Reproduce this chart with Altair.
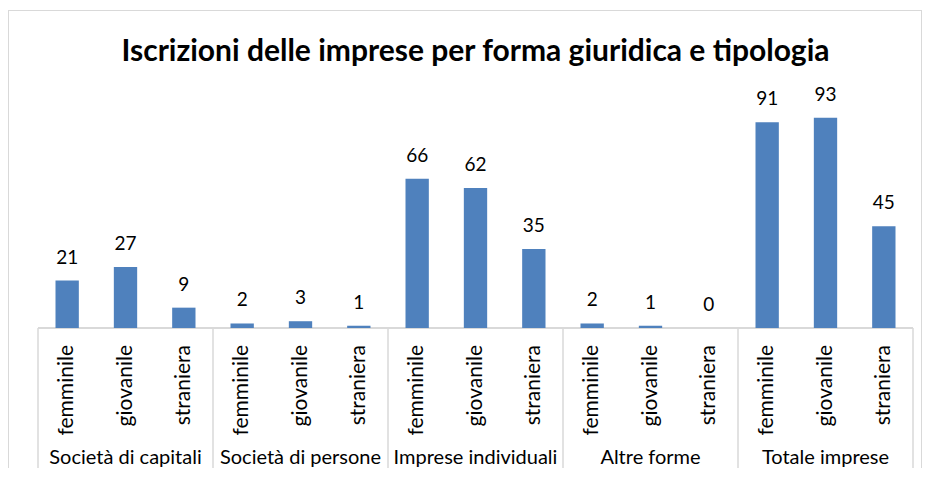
import altair as alt
import pandas as pd

# ---- data ----
title_text = "Iscrizioni delle imprese per forma giuridica e tipologia"
groups = ["Società di capitali", "Società di persone", "Imprese individuali", "Altre forme", "Totale imprese"]
types = ["femminile", "giovanile", "straniera"]
values = [21, 27, 9, 2, 3, 1, 66, 62, 35, 2, 1, 0, 91, 93, 45]

rows = []
for gi, g in enumerate(groups):
    for ti, t in enumerate(types):
        i = gi * 3 + ti
        rows.append(dict(group=g, tipo=t, value=values[i], xc=i + 0.5, x0=i + 0.3, x1=i + 0.7))
df = pd.DataFrame(rows)
gdf = pd.DataFrame(dict(group=groups, xc=[gi * 3 + 1.5 for gi in range(len(groups))]))
sep = pd.DataFrame(dict(xs=[gi * 3 for gi in range(len(groups) + 1)]))
tdf = pd.DataFrame(dict(t=[title_text]))

W, H = 875, 226
FONT = "Lato"
GRID = "#D9D9D9"
xs = alt.Scale(domain=[0, 15], nice=False, zero=False)
ys = alt.Scale(domain=[0, 100], nice=False)


def X(f):
    return alt.X(f, scale=xs, axis=None)


def Y(f):
    return alt.Y(f, scale=ys, axis=None)


bars = alt.Chart(df).mark_bar(color="#4F81BD").encode(
    x=X("x0:Q"), x2="x1:Q", y=Y("value:Q"), y2=alt.datum(0),
)
labels = alt.Chart(df).mark_text(baseline="alphabetic", dy=-17, fontSize=19, font=FONT, color="#000").encode(
    x=X("xc:Q"), y=Y("value:Q"), text="value:Q"
)
sub = alt.Chart(df).mark_text(angle=270, align="right", baseline="middle", fontSize=21, font=FONT, color="#000").encode(
    x=X("xc:Q"), y=alt.value(H + 17), text="tipo:N"
)
glab = alt.Chart(gdf).mark_text(baseline="middle", fontSize=20, font=FONT, color="#000").encode(
    x=X("xc:Q"), y=alt.value(H + 130), text="group:N"
)
seps = alt.Chart(sep).mark_rule(color=GRID, strokeWidth=1.5).encode(
    x=X("xs:Q"), y=alt.value(H), y2=alt.value(H + 160)
)
base = alt.Chart(sep).mark_rule(color=GRID, strokeWidth=1.5).encode(
    x=alt.value(0), x2=alt.value(W), y=alt.value(H)
)
border = alt.Chart(sep).mark_rect(fill="transparent", stroke=GRID, strokeWidth=1).encode(
    x=alt.value(-29.5), x2=alt.value(883.5), y=alt.value(-91.5), y2=alt.value(H + 200)
)
title = alt.Chart(tdf).mark_text(baseline="middle", fontSize=30, font=FONT, fontWeight="bold", color="#000").encode(
    x=alt.value(W / 2), y=alt.value(-50), text="t:N"
)

chart = alt.layer(border, seps, base, bars, labels, sub, glab, title).properties(
    width=W, height=H,
    padding={"left": 30, "top": 94, "right": 9, "bottom": 140},
    autosize=alt.AutoSizeParams(type="none"),
).configure_view(stroke=None)

chart.save("out.html", embed_options={"renderer": "svg", "actions": False})
